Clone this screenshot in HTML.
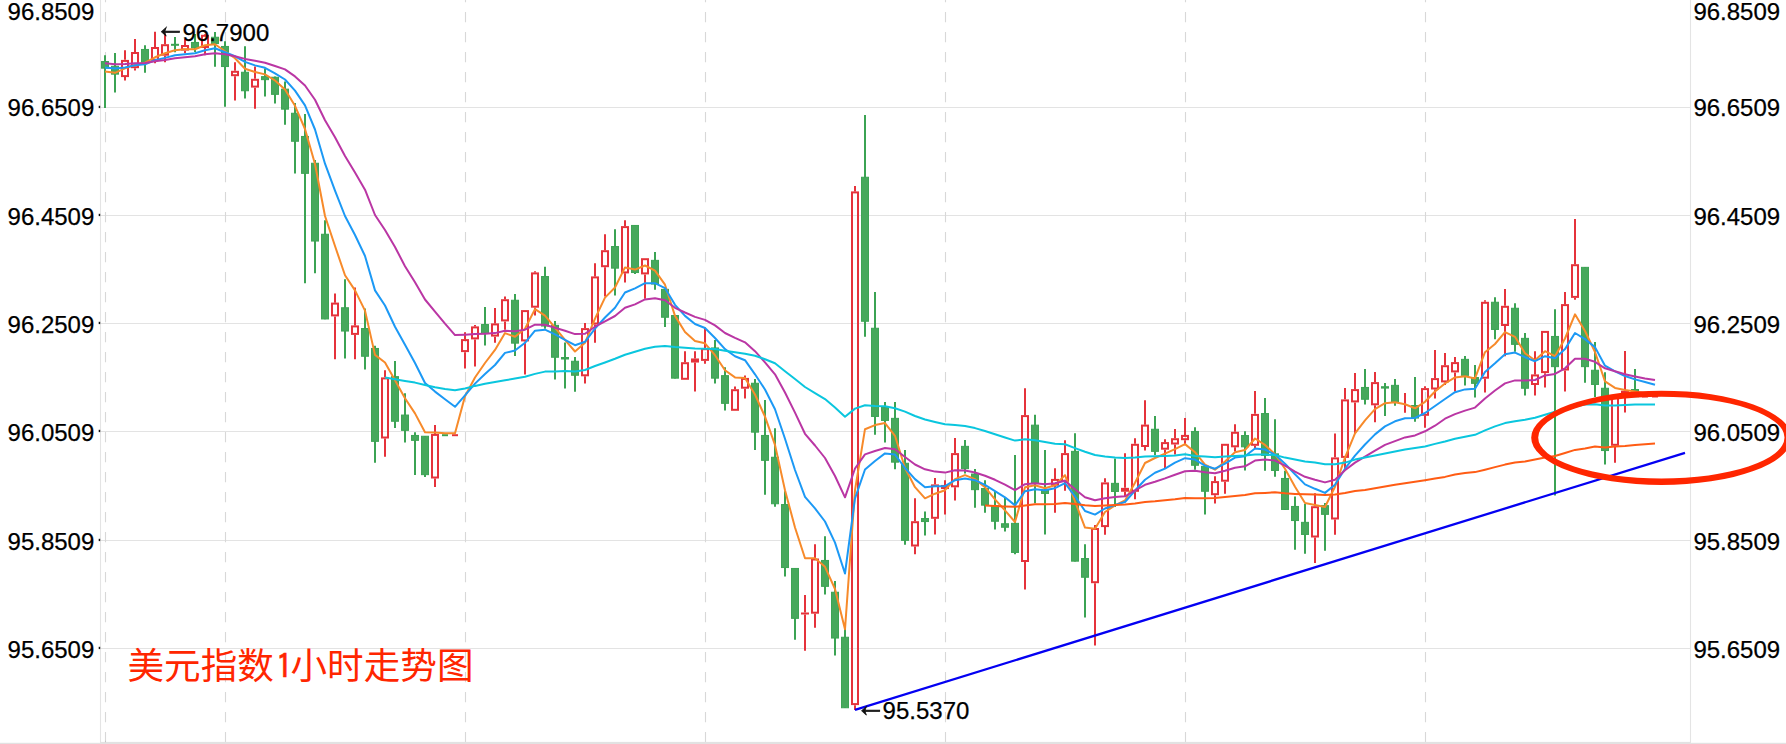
<!DOCTYPE html>
<html lang="zh-CN">
<head>
<meta charset="utf-8">
<title>美元指数1小时走势图</title>
<style>
html,body{margin:0;padding:0;background:#fff;}
body{width:1786px;height:744px;overflow:hidden;}
svg{display:block;}
</style>
</head>
<body>
<svg width="1786" height="744" viewBox="0 0 1786 744">
<rect width="1786" height="744" fill="#fff"/>
<g stroke="#e3e3e3" stroke-width="1.1" fill="none">
<line x1="100.5" y1="107.5" x2="1690.5" y2="107.5"/>
<line x1="100.5" y1="215.5" x2="1690.5" y2="215.5"/>
<line x1="100.5" y1="323.5" x2="1690.5" y2="323.5"/>
<line x1="100.5" y1="431.5" x2="1690.5" y2="431.5"/>
<line x1="100.5" y1="540.5" x2="1690.5" y2="540.5"/>
<line x1="100.5" y1="648.5" x2="1690.5" y2="648.5"/>
</g>
<g stroke="#d8d8d8" stroke-width="1.1" stroke-dasharray="10.4 9.6" fill="none">
<line x1="105.5" y1="-8.1" x2="105.5" y2="742"/>
<line x1="225.5" y1="-8.1" x2="225.5" y2="742"/>
<line x1="465.5" y1="-8.1" x2="465.5" y2="742"/>
<line x1="705.5" y1="-8.1" x2="705.5" y2="742"/>
<line x1="945.5" y1="-8.1" x2="945.5" y2="742"/>
<line x1="1185.5" y1="-8.1" x2="1185.5" y2="742"/>
<line x1="1425.5" y1="-8.1" x2="1425.5" y2="742"/>
</g>
<g stroke="#e4e4e4" stroke-width="1.1" fill="none">
<line x1="100.5" y1="0" x2="100.5" y2="742"/>
<line x1="1690.5" y1="0" x2="1690.5" y2="742"/>
</g>
<rect x="100" y="741.9" width="1591" height="2.1" fill="#e3e3e3"/>
<rect x="0" y="742.8" width="1786" height="1.2" fill="#e2e2e2"/>
<rect x="105" y="740.8" width="1" height="1.4" fill="#c4c4c4"/>
<g fill="#111">
<rect x="98.7" y="105.8" width="1.5" height="2.3"/>
<rect x="98.7" y="213.8" width="1.5" height="2.3"/>
<rect x="98.7" y="321.8" width="1.5" height="2.3"/>
<rect x="98.7" y="429.8" width="1.5" height="2.3"/>
<rect x="98.7" y="538.8" width="1.5" height="2.3"/>
<rect x="98.7" y="646.8" width="1.5" height="2.3"/>
</g>
<defs><filter id="soft" x="-1%" y="-1%" width="102%" height="102%"><feGaussianBlur stdDeviation="0.35"/></filter></defs>
<g filter="url(#soft)">
<line x1="105.0" y1="55.3" x2="105.0" y2="107.9" stroke="#3aa352" stroke-width="2"/>
<rect x="101.5" y="61.55" width="7" height="6.60" fill="#46a85c" stroke="#3ca454" stroke-width="1"/>
<line x1="115.0" y1="52.9" x2="115.0" y2="92.6" stroke="#3aa352" stroke-width="2"/>
<rect x="111.5" y="66.25" width="7" height="7.90" fill="#46a85c" stroke="#3ca454" stroke-width="1"/>
<line x1="125.0" y1="50.2" x2="125.0" y2="59.85" stroke="#e5333a" stroke-width="2"/>
<line x1="125.0" y1="77.05" x2="125.0" y2="80.5" stroke="#e5333a" stroke-width="2"/>
<rect x="122.0" y="60.9" width="6" height="15.2" fill="none" stroke="#e5333a" stroke-width="2"/>
<line x1="135.0" y1="39.1" x2="135.0" y2="52.05" stroke="#e5333a" stroke-width="2"/>
<line x1="135.0" y1="68.25" x2="135.0" y2="70.4" stroke="#e5333a" stroke-width="2"/>
<rect x="132.0" y="53.0" width="6" height="14.2" fill="none" stroke="#e5333a" stroke-width="2"/>
<line x1="145.0" y1="45.2" x2="145.0" y2="72.8" stroke="#3aa352" stroke-width="2"/>
<rect x="141.5" y="49.45" width="7" height="13.00" fill="#46a85c" stroke="#3ca454" stroke-width="1"/>
<line x1="155.0" y1="31.8" x2="155.0" y2="46.95" stroke="#e5333a" stroke-width="2"/>
<line x1="155.0" y1="60.75" x2="155.0" y2="63.3" stroke="#e5333a" stroke-width="2"/>
<rect x="152.0" y="48.0" width="6" height="11.8" fill="none" stroke="#e5333a" stroke-width="2"/>
<line x1="165.0" y1="33.7" x2="165.0" y2="44.25" stroke="#e5333a" stroke-width="2"/>
<line x1="165.0" y1="55.75" x2="165.0" y2="62.3" stroke="#e5333a" stroke-width="2"/>
<rect x="162.0" y="45.2" width="6" height="9.5" fill="none" stroke="#e5333a" stroke-width="2"/>
<line x1="175.0" y1="37.1" x2="175.0" y2="52.3" stroke="#3aa352" stroke-width="2"/>
<rect x="171.0" y="43.8" width="8" height="2.0" fill="#3aa352"/>
<line x1="185.0" y1="39.0" x2="185.0" y2="45.05" stroke="#e5333a" stroke-width="2"/>
<line x1="185.0" y1="50.65" x2="185.0" y2="53.3" stroke="#e5333a" stroke-width="2"/>
<rect x="182.0" y="46.0" width="6" height="3.6" fill="none" stroke="#e5333a" stroke-width="2"/>
<line x1="195.0" y1="34.0" x2="195.0" y2="52.0" stroke="#3aa352" stroke-width="2"/>
<rect x="191.5" y="42.45" width="7" height="5.50" fill="#46a85c" stroke="#3ca454" stroke-width="1"/>
<line x1="205.0" y1="34.0" x2="205.0" y2="34.75" stroke="#e5333a" stroke-width="2"/>
<line x1="205.0" y1="47.95" x2="205.0" y2="55.3" stroke="#e5333a" stroke-width="2"/>
<rect x="202.0" y="35.8" width="6" height="11.2" fill="none" stroke="#e5333a" stroke-width="2"/>
<line x1="215.0" y1="32.0" x2="215.0" y2="66.8" stroke="#3aa352" stroke-width="2"/>
<rect x="211.5" y="37.25" width="7" height="6.30" fill="#46a85c" stroke="#3ca454" stroke-width="1"/>
<line x1="225.0" y1="41.2" x2="225.0" y2="106.7" stroke="#3aa352" stroke-width="2"/>
<rect x="221.5" y="46.45" width="7" height="20.10" fill="#46a85c" stroke="#3ca454" stroke-width="1"/>
<line x1="235.0" y1="62.3" x2="235.0" y2="70.85" stroke="#e5333a" stroke-width="2"/>
<line x1="235.0" y1="76.25" x2="235.0" y2="100.6" stroke="#e5333a" stroke-width="2"/>
<rect x="232.0" y="71.8" width="6" height="3.4" fill="none" stroke="#e5333a" stroke-width="2"/>
<line x1="245.0" y1="46.2" x2="245.0" y2="98.6" stroke="#3aa352" stroke-width="2"/>
<rect x="241.5" y="72.25" width="7" height="18.50" fill="#46a85c" stroke="#3ca454" stroke-width="1"/>
<line x1="255.0" y1="66.4" x2="255.0" y2="78.85" stroke="#e5333a" stroke-width="2"/>
<line x1="255.0" y1="87.65" x2="255.0" y2="108.7" stroke="#e5333a" stroke-width="2"/>
<rect x="252.0" y="79.8" width="6" height="6.8" fill="none" stroke="#e5333a" stroke-width="2"/>
<line x1="265.0" y1="68.4" x2="265.0" y2="96.6" stroke="#3aa352" stroke-width="2"/>
<rect x="261.5" y="76.65" width="7" height="3.00" fill="#46a85c" stroke="#3ca454" stroke-width="1"/>
<line x1="275.0" y1="76.4" x2="275.0" y2="103.6" stroke="#3aa352" stroke-width="2"/>
<rect x="271.5" y="77.25" width="7" height="17.10" fill="#46a85c" stroke="#3ca454" stroke-width="1"/>
<line x1="285.0" y1="81.5" x2="285.0" y2="124.7" stroke="#3aa352" stroke-width="2"/>
<rect x="281.5" y="89.15" width="7" height="20.00" fill="#46a85c" stroke="#3ca454" stroke-width="1"/>
<line x1="295.0" y1="103.0" x2="295.0" y2="173.6" stroke="#3aa352" stroke-width="2"/>
<rect x="291.5" y="113.25" width="7" height="28.00" fill="#46a85c" stroke="#3ca454" stroke-width="1"/>
<line x1="305.0" y1="114.1" x2="305.0" y2="283.3" stroke="#3aa352" stroke-width="2"/>
<rect x="301.5" y="136.45" width="7" height="36.90" fill="#46a85c" stroke="#3ca454" stroke-width="1"/>
<line x1="315.0" y1="160.0" x2="315.0" y2="273.3" stroke="#3aa352" stroke-width="2"/>
<rect x="311.5" y="163.25" width="7" height="77.80" fill="#46a85c" stroke="#3ca454" stroke-width="1"/>
<line x1="325.0" y1="220.3" x2="325.0" y2="319.2" stroke="#3aa352" stroke-width="2"/>
<rect x="321.5" y="234.25" width="7" height="84.70" fill="#46a85c" stroke="#3ca454" stroke-width="1"/>
<line x1="335.0" y1="293.4" x2="335.0" y2="302.65" stroke="#e5333a" stroke-width="2"/>
<line x1="335.0" y1="316.45" x2="335.0" y2="359.3" stroke="#e5333a" stroke-width="2"/>
<rect x="332.0" y="303.6" width="6" height="11.8" fill="none" stroke="#e5333a" stroke-width="2"/>
<line x1="345.0" y1="279.3" x2="345.0" y2="358.5" stroke="#3aa352" stroke-width="2"/>
<rect x="341.5" y="307.75" width="7" height="23.30" fill="#46a85c" stroke="#3ca454" stroke-width="1"/>
<line x1="355.0" y1="287.4" x2="355.0" y2="325.45" stroke="#e5333a" stroke-width="2"/>
<line x1="355.0" y1="334.95" x2="355.0" y2="359.3" stroke="#e5333a" stroke-width="2"/>
<rect x="352.0" y="326.4" width="6" height="7.5" fill="none" stroke="#e5333a" stroke-width="2"/>
<line x1="365.0" y1="308.5" x2="365.0" y2="369.5" stroke="#3aa352" stroke-width="2"/>
<rect x="361.5" y="328.55" width="7" height="27.70" fill="#46a85c" stroke="#3ca454" stroke-width="1"/>
<line x1="375.0" y1="345.8" x2="375.0" y2="462.8" stroke="#3aa352" stroke-width="2"/>
<rect x="371.5" y="348.45" width="7" height="92.90" fill="#46a85c" stroke="#3ca454" stroke-width="1"/>
<line x1="385.0" y1="370.2" x2="385.0" y2="377.35" stroke="#e5333a" stroke-width="2"/>
<line x1="385.0" y1="438.45" x2="385.0" y2="456.8" stroke="#e5333a" stroke-width="2"/>
<rect x="382.0" y="378.4" width="6" height="59.1" fill="none" stroke="#e5333a" stroke-width="2"/>
<line x1="395.0" y1="361.0" x2="395.0" y2="428.0" stroke="#3aa352" stroke-width="2"/>
<rect x="391.5" y="376.65" width="7" height="44.60" fill="#46a85c" stroke="#3ca454" stroke-width="1"/>
<line x1="405.0" y1="393.3" x2="405.0" y2="442.6" stroke="#3aa352" stroke-width="2"/>
<rect x="401.5" y="415.05" width="7" height="15.30" fill="#46a85c" stroke="#3ca454" stroke-width="1"/>
<line x1="415.0" y1="432.2" x2="415.0" y2="474.9" stroke="#3aa352" stroke-width="2"/>
<rect x="411.5" y="435.45" width="7" height="4.90" fill="#46a85c" stroke="#3ca454" stroke-width="1"/>
<line x1="425.0" y1="436.0" x2="425.0" y2="476.9" stroke="#3aa352" stroke-width="2"/>
<rect x="421.5" y="436.25" width="7" height="38.40" fill="#46a85c" stroke="#3ca454" stroke-width="1"/>
<line x1="435.0" y1="424.9" x2="435.0" y2="433.95" stroke="#e5333a" stroke-width="2"/>
<line x1="435.0" y1="478.55" x2="435.0" y2="487.0" stroke="#e5333a" stroke-width="2"/>
<rect x="432.0" y="434.9" width="6" height="42.6" fill="none" stroke="#e5333a" stroke-width="2"/>
<rect x="442.0" y="434.2" width="6" height="2.0" fill="#3aa352"/>
<rect x="452.0" y="434.2" width="6" height="2.0" fill="#e5333a"/>
<line x1="465.0" y1="332.3" x2="465.0" y2="339.15" stroke="#e5333a" stroke-width="2"/>
<line x1="465.0" y1="352.15" x2="465.0" y2="368.4" stroke="#e5333a" stroke-width="2"/>
<rect x="462.0" y="340.1" width="6" height="11.0" fill="none" stroke="#e5333a" stroke-width="2"/>
<line x1="475.0" y1="325.0" x2="475.0" y2="326.45" stroke="#e5333a" stroke-width="2"/>
<line x1="475.0" y1="339.45" x2="475.0" y2="366.6" stroke="#e5333a" stroke-width="2"/>
<rect x="472.0" y="327.4" width="6" height="11.0" fill="none" stroke="#e5333a" stroke-width="2"/>
<line x1="485.0" y1="307.1" x2="485.0" y2="345.4" stroke="#3aa352" stroke-width="2"/>
<rect x="481.5" y="324.55" width="7" height="8.30" fill="#46a85c" stroke="#3ca454" stroke-width="1"/>
<line x1="495.0" y1="308.1" x2="495.0" y2="323.45" stroke="#e5333a" stroke-width="2"/>
<line x1="495.0" y1="336.65" x2="495.0" y2="342.8" stroke="#e5333a" stroke-width="2"/>
<rect x="492.0" y="324.4" width="6" height="11.2" fill="none" stroke="#e5333a" stroke-width="2"/>
<line x1="505.0" y1="296.4" x2="505.0" y2="299.25" stroke="#e5333a" stroke-width="2"/>
<line x1="505.0" y1="321.45" x2="505.0" y2="329.7" stroke="#e5333a" stroke-width="2"/>
<rect x="502.0" y="300.2" width="6" height="20.2" fill="none" stroke="#e5333a" stroke-width="2"/>
<line x1="515.0" y1="294.0" x2="515.0" y2="355.9" stroke="#3aa352" stroke-width="2"/>
<rect x="511.5" y="300.25" width="7" height="42.90" fill="#46a85c" stroke="#3ca454" stroke-width="1"/>
<line x1="525.0" y1="341.45" x2="525.0" y2="374.6" stroke="#e5333a" stroke-width="2"/>
<rect x="522.0" y="311.1" width="6" height="29.3" fill="none" stroke="#e5333a" stroke-width="2"/>
<line x1="535.0" y1="271.2" x2="535.0" y2="272.45" stroke="#e5333a" stroke-width="2"/>
<line x1="535.0" y1="307.75" x2="535.0" y2="315.6" stroke="#e5333a" stroke-width="2"/>
<rect x="532.0" y="273.4" width="6" height="33.3" fill="none" stroke="#e5333a" stroke-width="2"/>
<line x1="545.0" y1="266.8" x2="545.0" y2="328.7" stroke="#3aa352" stroke-width="2"/>
<rect x="541.5" y="276.55" width="7" height="49.50" fill="#46a85c" stroke="#3ca454" stroke-width="1"/>
<line x1="555.0" y1="321.0" x2="555.0" y2="379.5" stroke="#3aa352" stroke-width="2"/>
<rect x="551.5" y="325.35" width="7" height="31.90" fill="#46a85c" stroke="#3ca454" stroke-width="1"/>
<line x1="565.0" y1="342.4" x2="565.0" y2="388.5" stroke="#3aa352" stroke-width="2"/>
<rect x="561.0" y="357.0" width="8" height="2.5" fill="#3aa352"/>
<line x1="575.0" y1="356.9" x2="575.0" y2="391.8" stroke="#3aa352" stroke-width="2"/>
<rect x="571.5" y="361.25" width="7" height="14.00" fill="#46a85c" stroke="#3ca454" stroke-width="1"/>
<line x1="585.0" y1="323.0" x2="585.0" y2="328.05" stroke="#e5333a" stroke-width="2"/>
<line x1="585.0" y1="376.25" x2="585.0" y2="383.6" stroke="#e5333a" stroke-width="2"/>
<rect x="582.0" y="329.1" width="6" height="46.2" fill="none" stroke="#e5333a" stroke-width="2"/>
<line x1="595.0" y1="263.2" x2="595.0" y2="276.45" stroke="#e5333a" stroke-width="2"/>
<line x1="595.0" y1="324.55" x2="595.0" y2="342.8" stroke="#e5333a" stroke-width="2"/>
<rect x="592.0" y="277.4" width="6" height="46.1" fill="none" stroke="#e5333a" stroke-width="2"/>
<line x1="605.0" y1="234.3" x2="605.0" y2="250.25" stroke="#e5333a" stroke-width="2"/>
<line x1="605.0" y1="267.25" x2="605.0" y2="296.4" stroke="#e5333a" stroke-width="2"/>
<rect x="602.0" y="251.2" width="6" height="15.0" fill="none" stroke="#e5333a" stroke-width="2"/>
<line x1="615.0" y1="229.2" x2="615.0" y2="295.5" stroke="#3aa352" stroke-width="2"/>
<rect x="611.5" y="246.55" width="7" height="21.60" fill="#46a85c" stroke="#3ca454" stroke-width="1"/>
<line x1="625.0" y1="220.2" x2="625.0" y2="226.05" stroke="#e5333a" stroke-width="2"/>
<line x1="625.0" y1="273.35" x2="625.0" y2="282.5" stroke="#e5333a" stroke-width="2"/>
<rect x="622.0" y="227.1" width="6" height="45.3" fill="none" stroke="#e5333a" stroke-width="2"/>
<line x1="635.0" y1="225.2" x2="635.0" y2="274.0" stroke="#3aa352" stroke-width="2"/>
<rect x="631.5" y="225.45" width="7" height="47.10" fill="#46a85c" stroke="#3ca454" stroke-width="1"/>
<line x1="645.0" y1="274.45" x2="645.0" y2="298.8" stroke="#e5333a" stroke-width="2"/>
<rect x="642.0" y="259.2" width="6" height="14.2" fill="none" stroke="#e5333a" stroke-width="2"/>
<line x1="655.0" y1="252.0" x2="655.0" y2="289.7" stroke="#3aa352" stroke-width="2"/>
<rect x="651.5" y="260.35" width="7" height="23.70" fill="#46a85c" stroke="#3ca454" stroke-width="1"/>
<line x1="665.0" y1="288.7" x2="665.0" y2="327.0" stroke="#3aa352" stroke-width="2"/>
<rect x="661.5" y="289.35" width="7" height="27.90" fill="#46a85c" stroke="#3ca454" stroke-width="1"/>
<line x1="675.0" y1="315.3" x2="675.0" y2="378.4" stroke="#3aa352" stroke-width="2"/>
<rect x="671.5" y="315.55" width="7" height="62.60" fill="#46a85c" stroke="#3ca454" stroke-width="1"/>
<line x1="685.0" y1="351.2" x2="685.0" y2="362.25" stroke="#e5333a" stroke-width="2"/>
<rect x="682.0" y="363.2" width="6" height="15.6" fill="none" stroke="#e5333a" stroke-width="2"/>
<line x1="695.0" y1="351.2" x2="695.0" y2="358.45" stroke="#e5333a" stroke-width="2"/>
<line x1="695.0" y1="362.55" x2="695.0" y2="391.5" stroke="#e5333a" stroke-width="2"/>
<rect x="691.0" y="358.45" width="8" height="4.1" fill="#e5333a"/>
<line x1="705.0" y1="327.4" x2="705.0" y2="348.25" stroke="#e5333a" stroke-width="2"/>
<line x1="705.0" y1="360.95" x2="705.0" y2="363.8" stroke="#e5333a" stroke-width="2"/>
<rect x="702.0" y="349.2" width="6" height="10.7" fill="none" stroke="#e5333a" stroke-width="2"/>
<line x1="715.0" y1="340.0" x2="715.0" y2="383.4" stroke="#3aa352" stroke-width="2"/>
<rect x="711.5" y="347.95" width="7" height="30.20" fill="#46a85c" stroke="#3ca454" stroke-width="1"/>
<line x1="725.0" y1="367.3" x2="725.0" y2="410.6" stroke="#3aa352" stroke-width="2"/>
<rect x="721.5" y="375.65" width="7" height="27.70" fill="#46a85c" stroke="#3ca454" stroke-width="1"/>
<line x1="735.0" y1="386.4" x2="735.0" y2="389.25" stroke="#e5333a" stroke-width="2"/>
<rect x="732.0" y="390.2" width="6" height="19.6" fill="none" stroke="#e5333a" stroke-width="2"/>
<line x1="745.0" y1="375.4" x2="745.0" y2="377.95" stroke="#e5333a" stroke-width="2"/>
<line x1="745.0" y1="388.75" x2="745.0" y2="398.5" stroke="#e5333a" stroke-width="2"/>
<rect x="742.0" y="378.9" width="6" height="8.8" fill="none" stroke="#e5333a" stroke-width="2"/>
<line x1="755.0" y1="379.0" x2="755.0" y2="450.0" stroke="#3aa352" stroke-width="2"/>
<rect x="751.5" y="383.25" width="7" height="48.90" fill="#46a85c" stroke="#3ca454" stroke-width="1"/>
<line x1="765.0" y1="400.1" x2="765.0" y2="494.7" stroke="#3aa352" stroke-width="2"/>
<rect x="761.5" y="435.45" width="7" height="24.90" fill="#46a85c" stroke="#3ca454" stroke-width="1"/>
<line x1="775.0" y1="428.2" x2="775.0" y2="506.8" stroke="#3aa352" stroke-width="2"/>
<rect x="771.5" y="457.25" width="7" height="46.50" fill="#46a85c" stroke="#3ca454" stroke-width="1"/>
<line x1="785.0" y1="491.2" x2="785.0" y2="576.5" stroke="#3aa352" stroke-width="2"/>
<rect x="781.5" y="504.55" width="7" height="63.00" fill="#46a85c" stroke="#3ca454" stroke-width="1"/>
<line x1="795.0" y1="568.2" x2="795.0" y2="639.8" stroke="#3aa352" stroke-width="2"/>
<rect x="791.5" y="568.45" width="7" height="49.90" fill="#46a85c" stroke="#3ca454" stroke-width="1"/>
<line x1="805.0" y1="595.0" x2="805.0" y2="612.5" stroke="#e5333a" stroke-width="2"/>
<line x1="805.0" y1="614.5" x2="805.0" y2="650.8" stroke="#e5333a" stroke-width="2"/>
<rect x="801.0" y="612.5" width="8" height="2.0" fill="#e5333a"/>
<line x1="815.0" y1="544.3" x2="815.0" y2="558.55" stroke="#e5333a" stroke-width="2"/>
<line x1="815.0" y1="613.75" x2="815.0" y2="627.7" stroke="#e5333a" stroke-width="2"/>
<rect x="812.0" y="559.5" width="6" height="53.2" fill="none" stroke="#e5333a" stroke-width="2"/>
<line x1="825.0" y1="536.2" x2="825.0" y2="594.5" stroke="#3aa352" stroke-width="2"/>
<rect x="821.5" y="560.45" width="7" height="25.90" fill="#46a85c" stroke="#3ca454" stroke-width="1"/>
<line x1="835.0" y1="581.0" x2="835.0" y2="655.5" stroke="#3aa352" stroke-width="2"/>
<rect x="831.5" y="592.25" width="7" height="45.80" fill="#46a85c" stroke="#3ca454" stroke-width="1"/>
<line x1="845.0" y1="628.0" x2="845.0" y2="708.0" stroke="#3aa352" stroke-width="2"/>
<rect x="841.5" y="637.25" width="7" height="70.50" fill="#46a85c" stroke="#3ca454" stroke-width="1"/>
<line x1="855.0" y1="186.1" x2="855.0" y2="191.45" stroke="#e5333a" stroke-width="2"/>
<line x1="855.0" y1="705.15" x2="855.0" y2="710.0" stroke="#e5333a" stroke-width="2"/>
<rect x="852.0" y="192.4" width="6" height="511.7" fill="none" stroke="#e5333a" stroke-width="2"/>
<line x1="865.0" y1="115.1" x2="865.0" y2="336.7" stroke="#3aa352" stroke-width="2"/>
<rect x="861.5" y="177.25" width="7" height="144.00" fill="#46a85c" stroke="#3ca454" stroke-width="1"/>
<line x1="875.0" y1="292.1" x2="875.0" y2="434.8" stroke="#3aa352" stroke-width="2"/>
<rect x="871.5" y="328.25" width="7" height="88.20" fill="#46a85c" stroke="#3ca454" stroke-width="1"/>
<line x1="885.0" y1="402.0" x2="885.0" y2="442.5" stroke="#3aa352" stroke-width="2"/>
<rect x="881.5" y="407.45" width="7" height="13.00" fill="#46a85c" stroke="#3ca454" stroke-width="1"/>
<line x1="895.0" y1="402.0" x2="895.0" y2="469.3" stroke="#3aa352" stroke-width="2"/>
<rect x="891.5" y="418.35" width="7" height="43.80" fill="#46a85c" stroke="#3ca454" stroke-width="1"/>
<line x1="905.0" y1="450.0" x2="905.0" y2="544.7" stroke="#3aa352" stroke-width="2"/>
<rect x="901.5" y="463.25" width="7" height="77.10" fill="#46a85c" stroke="#3ca454" stroke-width="1"/>
<line x1="915.0" y1="498.3" x2="915.0" y2="521.25" stroke="#e5333a" stroke-width="2"/>
<line x1="915.0" y1="546.55" x2="915.0" y2="554.3" stroke="#e5333a" stroke-width="2"/>
<rect x="912.0" y="522.2" width="6" height="23.3" fill="none" stroke="#e5333a" stroke-width="2"/>
<line x1="925.0" y1="511.4" x2="925.0" y2="535.6" stroke="#3aa352" stroke-width="2"/>
<rect x="921.5" y="518.55" width="7" height="3.00" fill="#46a85c" stroke="#3ca454" stroke-width="1"/>
<line x1="935.0" y1="478.1" x2="935.0" y2="484.35" stroke="#e5333a" stroke-width="2"/>
<line x1="935.0" y1="518.75" x2="935.0" y2="534.6" stroke="#e5333a" stroke-width="2"/>
<rect x="932.0" y="485.4" width="6" height="32.4" fill="none" stroke="#e5333a" stroke-width="2"/>
<line x1="945.0" y1="480.2" x2="945.0" y2="484.95" stroke="#e5333a" stroke-width="2"/>
<line x1="945.0" y1="489.05" x2="945.0" y2="514.4" stroke="#e5333a" stroke-width="2"/>
<rect x="941.0" y="484.95" width="8" height="4.1" fill="#e5333a"/>
<line x1="955.0" y1="438.1" x2="955.0" y2="453.05" stroke="#e5333a" stroke-width="2"/>
<line x1="955.0" y1="487.25" x2="955.0" y2="500.4" stroke="#e5333a" stroke-width="2"/>
<rect x="952.0" y="454.1" width="6" height="32.2" fill="none" stroke="#e5333a" stroke-width="2"/>
<line x1="965.0" y1="440.0" x2="965.0" y2="473.5" stroke="#3aa352" stroke-width="2"/>
<rect x="961.5" y="446.35" width="7" height="22.30" fill="#46a85c" stroke="#3ca454" stroke-width="1"/>
<line x1="975.0" y1="468.9" x2="975.0" y2="507.8" stroke="#3aa352" stroke-width="2"/>
<rect x="971.5" y="474.05" width="7" height="15.60" fill="#46a85c" stroke="#3ca454" stroke-width="1"/>
<line x1="985.0" y1="480.3" x2="985.0" y2="512.8" stroke="#3aa352" stroke-width="2"/>
<rect x="981.5" y="488.55" width="7" height="16.60" fill="#46a85c" stroke="#3ca454" stroke-width="1"/>
<line x1="995.0" y1="491.1" x2="995.0" y2="529.5" stroke="#3aa352" stroke-width="2"/>
<rect x="991.5" y="505.65" width="7" height="15.60" fill="#46a85c" stroke="#3ca454" stroke-width="1"/>
<line x1="1005.0" y1="496.9" x2="1005.0" y2="531.6" stroke="#3aa352" stroke-width="2"/>
<rect x="1001.5" y="523.75" width="7" height="3.50" fill="#46a85c" stroke="#3ca454" stroke-width="1"/>
<line x1="1015.0" y1="455.1" x2="1015.0" y2="554.3" stroke="#3aa352" stroke-width="2"/>
<rect x="1011.5" y="523.35" width="7" height="29.10" fill="#46a85c" stroke="#3ca454" stroke-width="1"/>
<line x1="1025.0" y1="388.2" x2="1025.0" y2="415.15" stroke="#e5333a" stroke-width="2"/>
<line x1="1025.0" y1="562.05" x2="1025.0" y2="589.6" stroke="#e5333a" stroke-width="2"/>
<rect x="1022.0" y="416.1" width="6" height="144.9" fill="none" stroke="#e5333a" stroke-width="2"/>
<line x1="1035.0" y1="414.8" x2="1035.0" y2="503.3" stroke="#3aa352" stroke-width="2"/>
<rect x="1031.5" y="425.15" width="7" height="57.80" fill="#46a85c" stroke="#3ca454" stroke-width="1"/>
<line x1="1045.0" y1="450.1" x2="1045.0" y2="534.6" stroke="#3aa352" stroke-width="2"/>
<rect x="1041.5" y="490.45" width="7" height="3.00" fill="#46a85c" stroke="#3ca454" stroke-width="1"/>
<line x1="1055.0" y1="468.2" x2="1055.0" y2="478.95" stroke="#e5333a" stroke-width="2"/>
<line x1="1055.0" y1="485.75" x2="1055.0" y2="512.8" stroke="#e5333a" stroke-width="2"/>
<rect x="1052.0" y="479.9" width="6" height="4.8" fill="none" stroke="#e5333a" stroke-width="2"/>
<line x1="1065.0" y1="440.2" x2="1065.0" y2="453.05" stroke="#e5333a" stroke-width="2"/>
<line x1="1065.0" y1="481.75" x2="1065.0" y2="490.7" stroke="#e5333a" stroke-width="2"/>
<rect x="1062.0" y="454.1" width="6" height="26.7" fill="none" stroke="#e5333a" stroke-width="2"/>
<line x1="1075.0" y1="433.2" x2="1075.0" y2="561.4" stroke="#3aa352" stroke-width="2"/>
<rect x="1071.5" y="451.35" width="7" height="109.80" fill="#46a85c" stroke="#3ca454" stroke-width="1"/>
<line x1="1085.0" y1="544.3" x2="1085.0" y2="617.6" stroke="#3aa352" stroke-width="2"/>
<rect x="1081.5" y="558.55" width="7" height="18.70" fill="#46a85c" stroke="#3ca454" stroke-width="1"/>
<line x1="1095.0" y1="525.1" x2="1095.0" y2="528.05" stroke="#e5333a" stroke-width="2"/>
<line x1="1095.0" y1="583.25" x2="1095.0" y2="645.6" stroke="#e5333a" stroke-width="2"/>
<rect x="1092.0" y="529.0" width="6" height="53.2" fill="none" stroke="#e5333a" stroke-width="2"/>
<line x1="1105.0" y1="478.2" x2="1105.0" y2="482.35" stroke="#e5333a" stroke-width="2"/>
<line x1="1105.0" y1="527.05" x2="1105.0" y2="534.7" stroke="#e5333a" stroke-width="2"/>
<rect x="1102.0" y="483.4" width="6" height="42.7" fill="none" stroke="#e5333a" stroke-width="2"/>
<line x1="1115.0" y1="458.4" x2="1115.0" y2="507.0" stroke="#3aa352" stroke-width="2"/>
<rect x="1111.5" y="483.35" width="7" height="8.10" fill="#46a85c" stroke="#3ca454" stroke-width="1"/>
<line x1="1125.0" y1="453.3" x2="1125.0" y2="487.85" stroke="#e5333a" stroke-width="2"/>
<line x1="1125.0" y1="491.75" x2="1125.0" y2="497.0" stroke="#e5333a" stroke-width="2"/>
<rect x="1121.0" y="487.85" width="8" height="3.9" fill="#e5333a"/>
<line x1="1135.0" y1="438.2" x2="1135.0" y2="443.75" stroke="#e5333a" stroke-width="2"/>
<line x1="1135.0" y1="491.75" x2="1135.0" y2="499.3" stroke="#e5333a" stroke-width="2"/>
<rect x="1132.0" y="444.8" width="6" height="46.0" fill="none" stroke="#e5333a" stroke-width="2"/>
<line x1="1145.0" y1="400.2" x2="1145.0" y2="424.65" stroke="#e5333a" stroke-width="2"/>
<line x1="1145.0" y1="447.05" x2="1145.0" y2="450.6" stroke="#e5333a" stroke-width="2"/>
<rect x="1142.0" y="425.6" width="6" height="20.4" fill="none" stroke="#e5333a" stroke-width="2"/>
<line x1="1155.0" y1="416.1" x2="1155.0" y2="455.0" stroke="#3aa352" stroke-width="2"/>
<rect x="1151.5" y="429.25" width="7" height="22.10" fill="#46a85c" stroke="#3ca454" stroke-width="1"/>
<line x1="1165.0" y1="439.3" x2="1165.0" y2="442.15" stroke="#e5333a" stroke-width="2"/>
<line x1="1165.0" y1="449.75" x2="1165.0" y2="468.7" stroke="#e5333a" stroke-width="2"/>
<rect x="1162.0" y="443.1" width="6" height="5.6" fill="none" stroke="#e5333a" stroke-width="2"/>
<line x1="1175.0" y1="429.0" x2="1175.0" y2="438.25" stroke="#e5333a" stroke-width="2"/>
<line x1="1175.0" y1="444.55" x2="1175.0" y2="454.5" stroke="#e5333a" stroke-width="2"/>
<rect x="1172.0" y="439.2" width="6" height="4.3" fill="none" stroke="#e5333a" stroke-width="2"/>
<line x1="1185.0" y1="418.0" x2="1185.0" y2="434.95" stroke="#e5333a" stroke-width="2"/>
<line x1="1185.0" y1="440.25" x2="1185.0" y2="444.2" stroke="#e5333a" stroke-width="2"/>
<rect x="1182.0" y="435.9" width="6" height="3.3" fill="none" stroke="#e5333a" stroke-width="2"/>
<line x1="1195.0" y1="427.2" x2="1195.0" y2="469.8" stroke="#3aa352" stroke-width="2"/>
<rect x="1191.5" y="431.45" width="7" height="33.80" fill="#46a85c" stroke="#3ca454" stroke-width="1"/>
<line x1="1205.0" y1="466.0" x2="1205.0" y2="514.5" stroke="#3aa352" stroke-width="2"/>
<rect x="1201.5" y="466.35" width="7" height="24.90" fill="#46a85c" stroke="#3ca454" stroke-width="1"/>
<line x1="1215.0" y1="476.3" x2="1215.0" y2="481.15" stroke="#e5333a" stroke-width="2"/>
<line x1="1215.0" y1="495.25" x2="1215.0" y2="503.5" stroke="#e5333a" stroke-width="2"/>
<rect x="1212.0" y="482.1" width="6" height="12.1" fill="none" stroke="#e5333a" stroke-width="2"/>
<line x1="1225.0" y1="481.65" x2="1225.0" y2="493.8" stroke="#e5333a" stroke-width="2"/>
<rect x="1222.0" y="444.8" width="6" height="35.9" fill="none" stroke="#e5333a" stroke-width="2"/>
<line x1="1235.0" y1="424.2" x2="1235.0" y2="431.75" stroke="#e5333a" stroke-width="2"/>
<line x1="1235.0" y1="447.25" x2="1235.0" y2="451.5" stroke="#e5333a" stroke-width="2"/>
<rect x="1232.0" y="432.8" width="6" height="13.5" fill="none" stroke="#e5333a" stroke-width="2"/>
<line x1="1245.0" y1="431.3" x2="1245.0" y2="470.6" stroke="#3aa352" stroke-width="2"/>
<rect x="1241.5" y="435.55" width="7" height="11.30" fill="#46a85c" stroke="#3ca454" stroke-width="1"/>
<line x1="1255.0" y1="391.1" x2="1255.0" y2="413.85" stroke="#e5333a" stroke-width="2"/>
<line x1="1255.0" y1="445.75" x2="1255.0" y2="448.5" stroke="#e5333a" stroke-width="2"/>
<rect x="1252.0" y="414.9" width="6" height="29.9" fill="none" stroke="#e5333a" stroke-width="2"/>
<line x1="1265.0" y1="398.1" x2="1265.0" y2="470.7" stroke="#3aa352" stroke-width="2"/>
<rect x="1261.5" y="413.55" width="7" height="41.80" fill="#46a85c" stroke="#3ca454" stroke-width="1"/>
<line x1="1275.0" y1="419.3" x2="1275.0" y2="476.8" stroke="#3aa352" stroke-width="2"/>
<rect x="1271.5" y="453.85" width="7" height="16.60" fill="#46a85c" stroke="#3ca454" stroke-width="1"/>
<line x1="1285.0" y1="470.7" x2="1285.0" y2="509.7" stroke="#3aa352" stroke-width="2"/>
<rect x="1281.5" y="478.45" width="7" height="31.00" fill="#46a85c" stroke="#3ca454" stroke-width="1"/>
<line x1="1295.0" y1="496.5" x2="1295.0" y2="549.8" stroke="#3aa352" stroke-width="2"/>
<rect x="1291.5" y="506.45" width="7" height="14.10" fill="#46a85c" stroke="#3ca454" stroke-width="1"/>
<line x1="1305.0" y1="504.0" x2="1305.0" y2="553.8" stroke="#3aa352" stroke-width="2"/>
<rect x="1301.5" y="522.35" width="7" height="12.10" fill="#46a85c" stroke="#3ca454" stroke-width="1"/>
<line x1="1315.0" y1="493.3" x2="1315.0" y2="506.25" stroke="#e5333a" stroke-width="2"/>
<line x1="1315.0" y1="537.55" x2="1315.0" y2="562.9" stroke="#e5333a" stroke-width="2"/>
<rect x="1312.0" y="507.2" width="6" height="29.3" fill="none" stroke="#e5333a" stroke-width="2"/>
<line x1="1325.0" y1="503.0" x2="1325.0" y2="550.8" stroke="#3aa352" stroke-width="2"/>
<rect x="1321.5" y="505.65" width="7" height="8.70" fill="#46a85c" stroke="#3ca454" stroke-width="1"/>
<line x1="1335.0" y1="433.4" x2="1335.0" y2="457.35" stroke="#e5333a" stroke-width="2"/>
<line x1="1335.0" y1="519.45" x2="1335.0" y2="534.7" stroke="#e5333a" stroke-width="2"/>
<rect x="1332.0" y="458.4" width="6" height="60.1" fill="none" stroke="#e5333a" stroke-width="2"/>
<line x1="1345.0" y1="388.1" x2="1345.0" y2="399.35" stroke="#e5333a" stroke-width="2"/>
<line x1="1345.0" y1="457.85" x2="1345.0" y2="468.7" stroke="#e5333a" stroke-width="2"/>
<rect x="1342.0" y="400.4" width="6" height="56.5" fill="none" stroke="#e5333a" stroke-width="2"/>
<line x1="1355.0" y1="373.1" x2="1355.0" y2="389.15" stroke="#e5333a" stroke-width="2"/>
<line x1="1355.0" y1="402.45" x2="1355.0" y2="433.4" stroke="#e5333a" stroke-width="2"/>
<rect x="1352.0" y="390.1" width="6" height="11.3" fill="none" stroke="#e5333a" stroke-width="2"/>
<line x1="1365.0" y1="369.0" x2="1365.0" y2="404.6" stroke="#3aa352" stroke-width="2"/>
<rect x="1361.5" y="387.45" width="7" height="11.80" fill="#46a85c" stroke="#3ca454" stroke-width="1"/>
<line x1="1375.0" y1="372.1" x2="1375.0" y2="382.05" stroke="#e5333a" stroke-width="2"/>
<line x1="1375.0" y1="405.25" x2="1375.0" y2="422.3" stroke="#e5333a" stroke-width="2"/>
<rect x="1372.0" y="383.1" width="6" height="21.2" fill="none" stroke="#e5333a" stroke-width="2"/>
<line x1="1385.0" y1="383.1" x2="1385.0" y2="415.9" stroke="#3aa352" stroke-width="2"/>
<rect x="1381.0" y="386.2" width="8" height="2.4" fill="#3aa352"/>
<line x1="1395.0" y1="379.1" x2="1395.0" y2="405.8" stroke="#3aa352" stroke-width="2"/>
<rect x="1391.5" y="385.35" width="7" height="16.50" fill="#46a85c" stroke="#3ca454" stroke-width="1"/>
<line x1="1405.0" y1="392.9" x2="1405.0" y2="403.5" stroke="#e5333a" stroke-width="2"/>
<line x1="1405.0" y1="403.5" x2="1405.0" y2="412.5" stroke="#e5333a" stroke-width="2"/>
<line x1="1405.0" y1="392.9" x2="1405.0" y2="412.5" stroke="#e5333a" stroke-width="2"/>
<line x1="1415.0" y1="377.1" x2="1415.0" y2="421.7" stroke="#3aa352" stroke-width="2"/>
<rect x="1411.5" y="405.55" width="7" height="12.50" fill="#46a85c" stroke="#3ca454" stroke-width="1"/>
<line x1="1425.0" y1="386.2" x2="1425.0" y2="388.05" stroke="#e5333a" stroke-width="2"/>
<line x1="1425.0" y1="415.75" x2="1425.0" y2="427.8" stroke="#e5333a" stroke-width="2"/>
<rect x="1422.0" y="389.1" width="6" height="25.7" fill="none" stroke="#e5333a" stroke-width="2"/>
<line x1="1435.0" y1="350.1" x2="1435.0" y2="378.05" stroke="#e5333a" stroke-width="2"/>
<line x1="1435.0" y1="389.45" x2="1435.0" y2="398.6" stroke="#e5333a" stroke-width="2"/>
<rect x="1432.0" y="379.1" width="6" height="9.4" fill="none" stroke="#e5333a" stroke-width="2"/>
<line x1="1445.0" y1="353.1" x2="1445.0" y2="365.25" stroke="#e5333a" stroke-width="2"/>
<line x1="1445.0" y1="382.45" x2="1445.0" y2="385.0" stroke="#e5333a" stroke-width="2"/>
<rect x="1442.0" y="366.2" width="6" height="15.2" fill="none" stroke="#e5333a" stroke-width="2"/>
<line x1="1455.0" y1="357.1" x2="1455.0" y2="362.15" stroke="#e5333a" stroke-width="2"/>
<line x1="1455.0" y1="372.45" x2="1455.0" y2="391.6" stroke="#e5333a" stroke-width="2"/>
<rect x="1452.0" y="363.1" width="6" height="8.3" fill="none" stroke="#e5333a" stroke-width="2"/>
<line x1="1465.0" y1="356.0" x2="1465.0" y2="385.5" stroke="#3aa352" stroke-width="2"/>
<rect x="1461.5" y="359.35" width="7" height="16.00" fill="#46a85c" stroke="#3ca454" stroke-width="1"/>
<line x1="1475.0" y1="365.1" x2="1475.0" y2="397.6" stroke="#3aa352" stroke-width="2"/>
<rect x="1471.5" y="377.55" width="7" height="5.80" fill="#46a85c" stroke="#3ca454" stroke-width="1"/>
<line x1="1485.0" y1="300.2" x2="1485.0" y2="301.75" stroke="#e5333a" stroke-width="2"/>
<line x1="1485.0" y1="378.65" x2="1485.0" y2="392.5" stroke="#e5333a" stroke-width="2"/>
<rect x="1482.0" y="302.8" width="6" height="74.9" fill="none" stroke="#e5333a" stroke-width="2"/>
<line x1="1495.0" y1="297.2" x2="1495.0" y2="339.3" stroke="#3aa352" stroke-width="2"/>
<rect x="1491.5" y="302.25" width="7" height="27.20" fill="#46a85c" stroke="#3ca454" stroke-width="1"/>
<line x1="1505.0" y1="289.1" x2="1505.0" y2="305.75" stroke="#e5333a" stroke-width="2"/>
<line x1="1505.0" y1="325.95" x2="1505.0" y2="356.2" stroke="#e5333a" stroke-width="2"/>
<rect x="1502.0" y="306.8" width="6" height="18.2" fill="none" stroke="#e5333a" stroke-width="2"/>
<line x1="1515.0" y1="303.2" x2="1515.0" y2="351.8" stroke="#3aa352" stroke-width="2"/>
<rect x="1511.5" y="308.25" width="7" height="36.10" fill="#46a85c" stroke="#3ca454" stroke-width="1"/>
<line x1="1525.0" y1="333.0" x2="1525.0" y2="395.5" stroke="#3aa352" stroke-width="2"/>
<rect x="1521.5" y="338.35" width="7" height="49.90" fill="#46a85c" stroke="#3ca454" stroke-width="1"/>
<line x1="1535.0" y1="351.2" x2="1535.0" y2="374.45" stroke="#e5333a" stroke-width="2"/>
<line x1="1535.0" y1="385.05" x2="1535.0" y2="395.5" stroke="#e5333a" stroke-width="2"/>
<rect x="1532.0" y="375.4" width="6" height="8.6" fill="none" stroke="#e5333a" stroke-width="2"/>
<line x1="1545.0" y1="373.15" x2="1545.0" y2="387.4" stroke="#e5333a" stroke-width="2"/>
<rect x="1542.0" y="331.9" width="6" height="40.2" fill="none" stroke="#e5333a" stroke-width="2"/>
<line x1="1555.0" y1="309.3" x2="1555.0" y2="495.4" stroke="#3aa352" stroke-width="2"/>
<rect x="1551.5" y="336.45" width="7" height="30.20" fill="#46a85c" stroke="#3ca454" stroke-width="1"/>
<line x1="1565.0" y1="292.1" x2="1565.0" y2="304.15" stroke="#e5333a" stroke-width="2"/>
<line x1="1565.0" y1="370.55" x2="1565.0" y2="391.5" stroke="#e5333a" stroke-width="2"/>
<rect x="1562.0" y="305.1" width="6" height="64.4" fill="none" stroke="#e5333a" stroke-width="2"/>
<line x1="1575.0" y1="219.1" x2="1575.0" y2="264.25" stroke="#e5333a" stroke-width="2"/>
<line x1="1575.0" y1="297.95" x2="1575.0" y2="299.8" stroke="#e5333a" stroke-width="2"/>
<rect x="1572.0" y="265.2" width="6" height="31.7" fill="none" stroke="#e5333a" stroke-width="2"/>
<line x1="1585.0" y1="267.1" x2="1585.0" y2="382.8" stroke="#3aa352" stroke-width="2"/>
<rect x="1581.5" y="267.35" width="7" height="99.30" fill="#46a85c" stroke="#3ca454" stroke-width="1"/>
<line x1="1595.0" y1="342.1" x2="1595.0" y2="397.0" stroke="#3aa352" stroke-width="2"/>
<rect x="1591.5" y="370.25" width="7" height="14.20" fill="#46a85c" stroke="#3ca454" stroke-width="1"/>
<line x1="1605.0" y1="372.3" x2="1605.0" y2="464.6" stroke="#3aa352" stroke-width="2"/>
<rect x="1601.5" y="388.25" width="7" height="62.30" fill="#46a85c" stroke="#3ca454" stroke-width="1"/>
<line x1="1615.0" y1="445.75" x2="1615.0" y2="462.7" stroke="#e5333a" stroke-width="2"/>
<rect x="1612.0" y="397.8" width="6" height="47.0" fill="none" stroke="#e5333a" stroke-width="2"/>
<line x1="1625.0" y1="350.9" x2="1625.0" y2="390.75" stroke="#e5333a" stroke-width="2"/>
<line x1="1625.0" y1="394.75" x2="1625.0" y2="412.6" stroke="#e5333a" stroke-width="2"/>
<rect x="1621.0" y="390.75" width="8" height="4.0" fill="#e5333a"/>
<line x1="1635.0" y1="369.0" x2="1635.0" y2="397.0" stroke="#3aa352" stroke-width="2"/>
<rect x="1631.5" y="389.55" width="7" height="7.20" fill="#46a85c" stroke="#3ca454" stroke-width="1"/>
<rect x="1642.0" y="395.5" width="6" height="2.0" fill="#e5333a"/>
<rect x="1652.0" y="395.5" width="6" height="2.0" fill="#e5333a"/>
</g>
<polyline points="105,71.4 115,72.8 125,68.4 135,64.7 145,62.7 155,57.3 165,53.3 175,50.2 185,49.2 195,49.2 205,45.2 215,44.2 225,51.2 235,58.3 245,68.8 255,72 265,74.4 275,80.5 285,89.5 295,105.8 305,129 315,164 325,216 335,246 345,275.3 355,290.4 365,310.6 375,354.9 385,362.5 395,380.2 405,398.3 415,413.4 425,432.2 435,432.6 445,433.2 455,433.2 465,396.3 475,377.5 485,363 495,349.9 505,333.1 515,336.8 525,328.7 535,309.1 545,315.6 555,327.7 565,339.8 575,351.5 585,342.8 595,318.6 605,297.6 615,287.5 625,267.4 635,269.6 645,265.5 655,270.6 665,284.7 675,315.9 685,332 695,341.1 705,343.3 715,355.2 725,370.3 735,377.4 745,378 755,394.5 765,416.7 775,444.9 785,490.2 795,527.5 805,558.2 815,558.2 825,566.8 835,589 845,629.3 855,490.2 865,429.2 875,425.1 885,423.1 895,435.8 905,468 915,487.2 925,498.3 935,493.7 945,490.2 955,479.1 965,475.1 975,479.1 985,487.2 995,499.3 1005,510.4 1015,522 1025,487.2 1035,485.2 1045,488.2 1055,485.2 1065,475.1 1075,501.3 1085,527.6 1095,528.8 1105,512 1115,505.4 1125,500.5 1135,482.8 1145,463 1155,458 1165,453.6 1175,449.1 1185,444.1 1195,452.2 1205,464.7 1215,469.7 1225,461.6 1235,452.2 1245,450.1 1255,438.5 1265,444.9 1275,454.2 1285,468.7 1295,486.8 1305,503 1315,505 1325,507 1335,486.8 1345,457.6 1355,433.4 1365,420.3 1375,409.2 1385,403.2 1395,402.2 1405,404.2 1415,408.3 1425,401.8 1435,391.5 1445,383.5 1455,377.4 1465,376.2 1475,378.4 1485,352.2 1495,344 1505,332.2 1515,336.8 1525,353.2 1535,360.2 1545,351.2 1555,356.2 1565,338.5 1575,314.3 1585,331 1595,352 1605,381.4 1615,387.9 1625,389.9 1635,391.6 1645,393.2 1655,394.6" fill="none" stroke="#f78a2a" stroke-width="2" stroke-linejoin="round" stroke-linecap="butt"/>
<polyline points="105,67.4 115,68.4 125,67.4 135,65.2 145,64.3 155,60.3 165,57.9 175,55.3 185,54.3 195,53.3 205,50.2 215,48.2 225,52.3 235,56.3 245,61.9 255,65.4 265,67.8 275,73.4 285,79.5 295,90.6 305,105.4 315,129.5 325,163.7 335,190.7 345,216 355,235 365,256 375,290.4 385,305.5 395,326.7 405,344.8 415,363 425,383 435,391.6 445,399.3 455,406.8 465,395.3 475,383.6 485,374 495,365 505,352.9 515,350.5 525,342.8 535,330.7 545,329.7 555,334.3 565,339.8 575,345.2 585,341.8 595,328.7 605,317.5 615,307.7 625,292.5 635,288.3 645,283.2 655,283.2 665,288.1 675,304.8 685,315.9 695,324 705,328 715,338 725,349.1 735,356.2 745,360.2 755,374.3 765,389.5 775,409.2 785,438.8 795,470 805,496.9 815,508.4 825,521.5 835,542.6 845,573.5 855,498.3 865,469.5 875,461 885,453.4 895,454.6 905,468 915,479.1 925,487.2 935,486.2 945,486.2 955,480.2 965,478.5 975,480.2 985,484.8 995,491.2 1005,497.3 1015,505.4 1025,491.2 1035,489.2 1045,490.2 1055,488.2 1065,483.2 1075,496.3 1085,511 1095,514.6 1105,508.5 1115,505 1125,502 1135,490.5 1145,479.8 1155,472.7 1165,468.6 1175,462.6 1185,458.2 1195,459.6 1205,465.7 1215,468.7 1225,463.7 1235,457.6 1245,456.2 1255,448.5 1265,449.5 1275,454.6 1285,463.7 1295,474.3 1305,484.4 1315,488.8 1325,492.9 1335,484.8 1345,468.7 1355,455.6 1365,444.5 1375,434.4 1385,426.4 1395,421.3 1405,418.3 1415,417.9 1425,413 1435,406 1445,399 1455,392.2 1465,389.4 1475,388.7 1485,372 1495,363.3 1505,354.2 1515,352.6 1525,357.2 1535,361.2 1545,356.2 1555,358.2 1565,349.1 1575,333 1585,339.1 1595,347.1 1605,365.7 1615,371.3 1625,376 1635,379.4 1645,382 1655,384.8" fill="none" stroke="#1c99f5" stroke-width="2" stroke-linejoin="round" stroke-linecap="butt"/>
<polyline points="105,63.3 115,64.3 125,64 135,63.3 145,63 155,61.3 165,60 175,58.3 185,57.3 195,56.3 205,54.3 215,53.3 225,54.3 235,56.3 245,58.9 255,60.7 265,62.7 275,66 285,69.4 295,76.4 305,85.5 315,99.8 325,120.2 335,137.2 345,156 355,172.6 365,189.7 375,215 385,230 395,247 405,266.2 415,282.3 425,299.5 435,311.6 445,323.7 455,335.1 465,334.7 475,334.1 485,333.7 495,333.1 505,330.7 515,331.3 525,329.7 535,324.7 545,324.7 555,327.7 565,330.7 575,334.1 585,333.7 595,326.7 605,321.3 615,316 625,307.8 635,304.4 645,299.4 655,298.2 665,300.2 675,307.8 685,312.5 695,316.9 705,319.9 715,325.4 725,333 735,337.8 745,342.3 755,351.2 765,362.3 775,374.3 785,392.5 795,412.6 805,433.8 815,445.5 825,458 835,476 845,497.3 855,468.5 865,454.4 875,451 885,448 895,449.3 905,457 915,464.5 925,469.3 935,471.6 945,472.6 955,470.3 965,470.5 975,472.5 985,475.7 995,479.8 1005,484.6 1015,490.2 1025,484.2 1035,483.2 1045,484.2 1055,483.2 1065,480.8 1075,489.2 1085,497.2 1095,500.3 1105,498.3 1115,496.9 1125,496.3 1135,490.5 1145,484.8 1155,481.8 1165,478.4 1175,474.7 1185,471.3 1195,470.7 1205,472.3 1215,473.3 1225,470.7 1235,467.7 1245,466.3 1255,460.6 1265,459.6 1275,460.6 1285,465.7 1295,471.7 1305,476.8 1315,479.8 1325,482.4 1335,479.8 1345,470.3 1355,462.6 1365,456.6 1375,450.6 1385,444.9 1395,441.1 1405,437.4 1415,435.4 1425,431.3 1435,425.7 1445,418.7 1455,414.1 1465,410.6 1475,407.6 1485,398.5 1495,390.5 1505,383.4 1515,380.4 1525,380.4 1535,380 1545,375.4 1555,373.9 1565,368.3 1575,358.8 1585,358.8 1595,361.8 1605,368.3 1615,371.3 1625,374.3 1635,376.4 1645,378.4 1655,380" fill="none" stroke="#ba36a4" stroke-width="2" stroke-linejoin="round" stroke-linecap="butt"/>
<polyline points="385,377.6 395,379.3 405,380.9 415,382.6 425,385 435,387.2 445,389 455,390.2 465,388.5 475,385.9 485,383.7 495,381.9 505,380.2 515,378.6 525,376.8 535,373.9 545,371.6 555,371.4 565,371 575,371.4 585,370 595,366 605,362.5 615,358.8 625,354.8 635,351.8 645,348.7 655,346.7 665,346.1 675,347.1 685,347.7 695,348.5 705,348.7 715,349.1 725,350.8 735,352.2 745,353.8 755,355.8 765,359.2 775,363.3 785,371.3 795,379 805,387 815,393.1 825,399.1 835,407.6 845,416.7 855,408.6 865,405.2 875,406 885,406.2 895,408.2 905,411.6 915,416 925,419.5 935,422 945,424.3 955,425.1 965,426.1 975,428.1 985,431 995,434.2 1005,437.5 1015,440.6 1025,439.2 1035,440.2 1045,442 1055,443.7 1065,444.3 1075,448.1 1085,451.7 1095,455 1105,456.6 1115,457.6 1125,458 1135,457.6 1145,456.6 1155,456.2 1165,456 1175,455.6 1185,454.2 1195,456 1205,456.6 1215,457.2 1225,456.6 1235,456 1245,455.6 1255,454.6 1265,454.6 1275,455 1285,457.6 1295,459.6 1305,461.6 1315,462.6 1325,464.3 1335,464.3 1345,462.6 1355,459.6 1365,457.6 1375,455.6 1385,453.6 1395,451.6 1405,449.5 1415,447.9 1425,446.5 1435,443.9 1445,441.5 1455,438.8 1465,436.8 1475,434.8 1485,430.4 1495,426.4 1505,423.1 1515,421.3 1525,419.7 1535,417.7 1545,414.7 1555,411.6 1565,409.6 1575,406.6 1585,404.6 1595,404.2 1605,405.6 1615,405.6 1625,405 1635,404.6 1645,404.6 1655,404.6" fill="none" stroke="#0ac6de" stroke-width="2" stroke-linejoin="round" stroke-linecap="butt"/>
<polyline points="985,505.4 995,506 1005,506.4 1015,506.8 1025,505.4 1035,504.3 1045,504.3 1055,504 1065,502.9 1075,504 1085,505.2 1095,506 1105,505.4 1115,505 1125,504.4 1135,503.4 1145,502 1155,501.3 1165,500.3 1175,499.3 1185,497.9 1195,498.3 1205,498.3 1215,497.9 1225,496.9 1235,495.9 1245,494.9 1255,493.3 1265,492.9 1275,492.3 1285,493.3 1295,493.9 1305,494.3 1315,494.5 1325,494.9 1335,494.5 1345,492.9 1355,490.9 1365,489.9 1375,488.2 1385,486.4 1395,484.8 1405,483.2 1415,481.8 1425,480.2 1435,478.5 1445,476.9 1455,474.5 1465,473.1 1475,472.1 1485,469.7 1495,467.1 1505,464.6 1515,462.4 1525,461.6 1535,459.6 1545,457.4 1555,456 1565,453 1575,449.9 1585,448.5 1595,446.5 1605,447.5 1615,446.5 1625,445.9 1635,444.9 1645,444.3 1655,443.5" fill="none" stroke="#ff5c14" stroke-width="2" stroke-linejoin="round" stroke-linecap="butt"/>
<line x1="855" y1="709.8" x2="1685" y2="452.8" stroke="#0400f2" stroke-width="2.3"/>
<g font-family="'Liberation Sans', Arial, Helvetica, sans-serif" font-size="24" fill="#000" stroke="#000" stroke-width="0.25">
<text x="94.3" y="20.2" text-anchor="end">96.8509</text>
<text x="1693.4" y="20.2">96.8509</text>
<text x="94.3" y="116.3" text-anchor="end">96.6509</text>
<text x="1693.4" y="116.3">96.6509</text>
<text x="94.3" y="224.6" text-anchor="end">96.4509</text>
<text x="1693.4" y="224.6">96.4509</text>
<text x="94.3" y="332.9" text-anchor="end">96.2509</text>
<text x="1693.4" y="332.9">96.2509</text>
<text x="94.3" y="441.2" text-anchor="end">96.0509</text>
<text x="1693.4" y="441.2">96.0509</text>
<text x="94.3" y="549.5" text-anchor="end">95.8509</text>
<text x="1693.4" y="549.5">95.8509</text>
<text x="94.3" y="657.8" text-anchor="end">95.6509</text>
<text x="1693.4" y="657.8">95.6509</text>
<text x="182.5" y="40.6">96.7900</text>
<text x="882.6" y="719">95.5370</text>
</g>
<text transform="translate(160.1,32.2) scale(1,1.35)" x="0" y="7.56" font-family="'WenQuanYi Zen Hei', 'DejaVu Sans', sans-serif" font-size="21" fill="#111" stroke="#111" stroke-width="0.7">←</text>
<text transform="translate(860.3,710.6) scale(1,1.35)" x="0" y="7.56" font-family="'WenQuanYi Zen Hei', 'DejaVu Sans', sans-serif" font-size="21" fill="#111" stroke="#111" stroke-width="0.7">←</text>
<text id="cn" y="678.5" font-family="'Liberation Sans', 'Noto Sans CJK SC', sans-serif" font-size="36.6" fill="#ff2600"><tspan x="127.5 164.1 200.7 237.3">美元指数</tspan><tspan x="275.8" y="678.9" font-size="34.4" stroke="#ff2600" stroke-width="0.5" font-family="IPAGothic, 'Liberation Sans', sans-serif">1</tspan><tspan x="290.5 327.1 363.7 400.3 436.9" y="678.5">小时走势图</tspan></text>
<path fill="#ff2600" fill-rule="evenodd" d="M1531.1999999999998,437.8A130.15,47.1 0 1 0 1791.5,437.8A130.15,47.1 0 1 0 1531.1999999999998,437.8ZM1538.1999999999998,437.6A123.15,40.9 0 1 0 1784.5,437.6A123.15,40.9 0 1 0 1538.1999999999998,437.6Z"/>
</svg>
</body>
</html>
